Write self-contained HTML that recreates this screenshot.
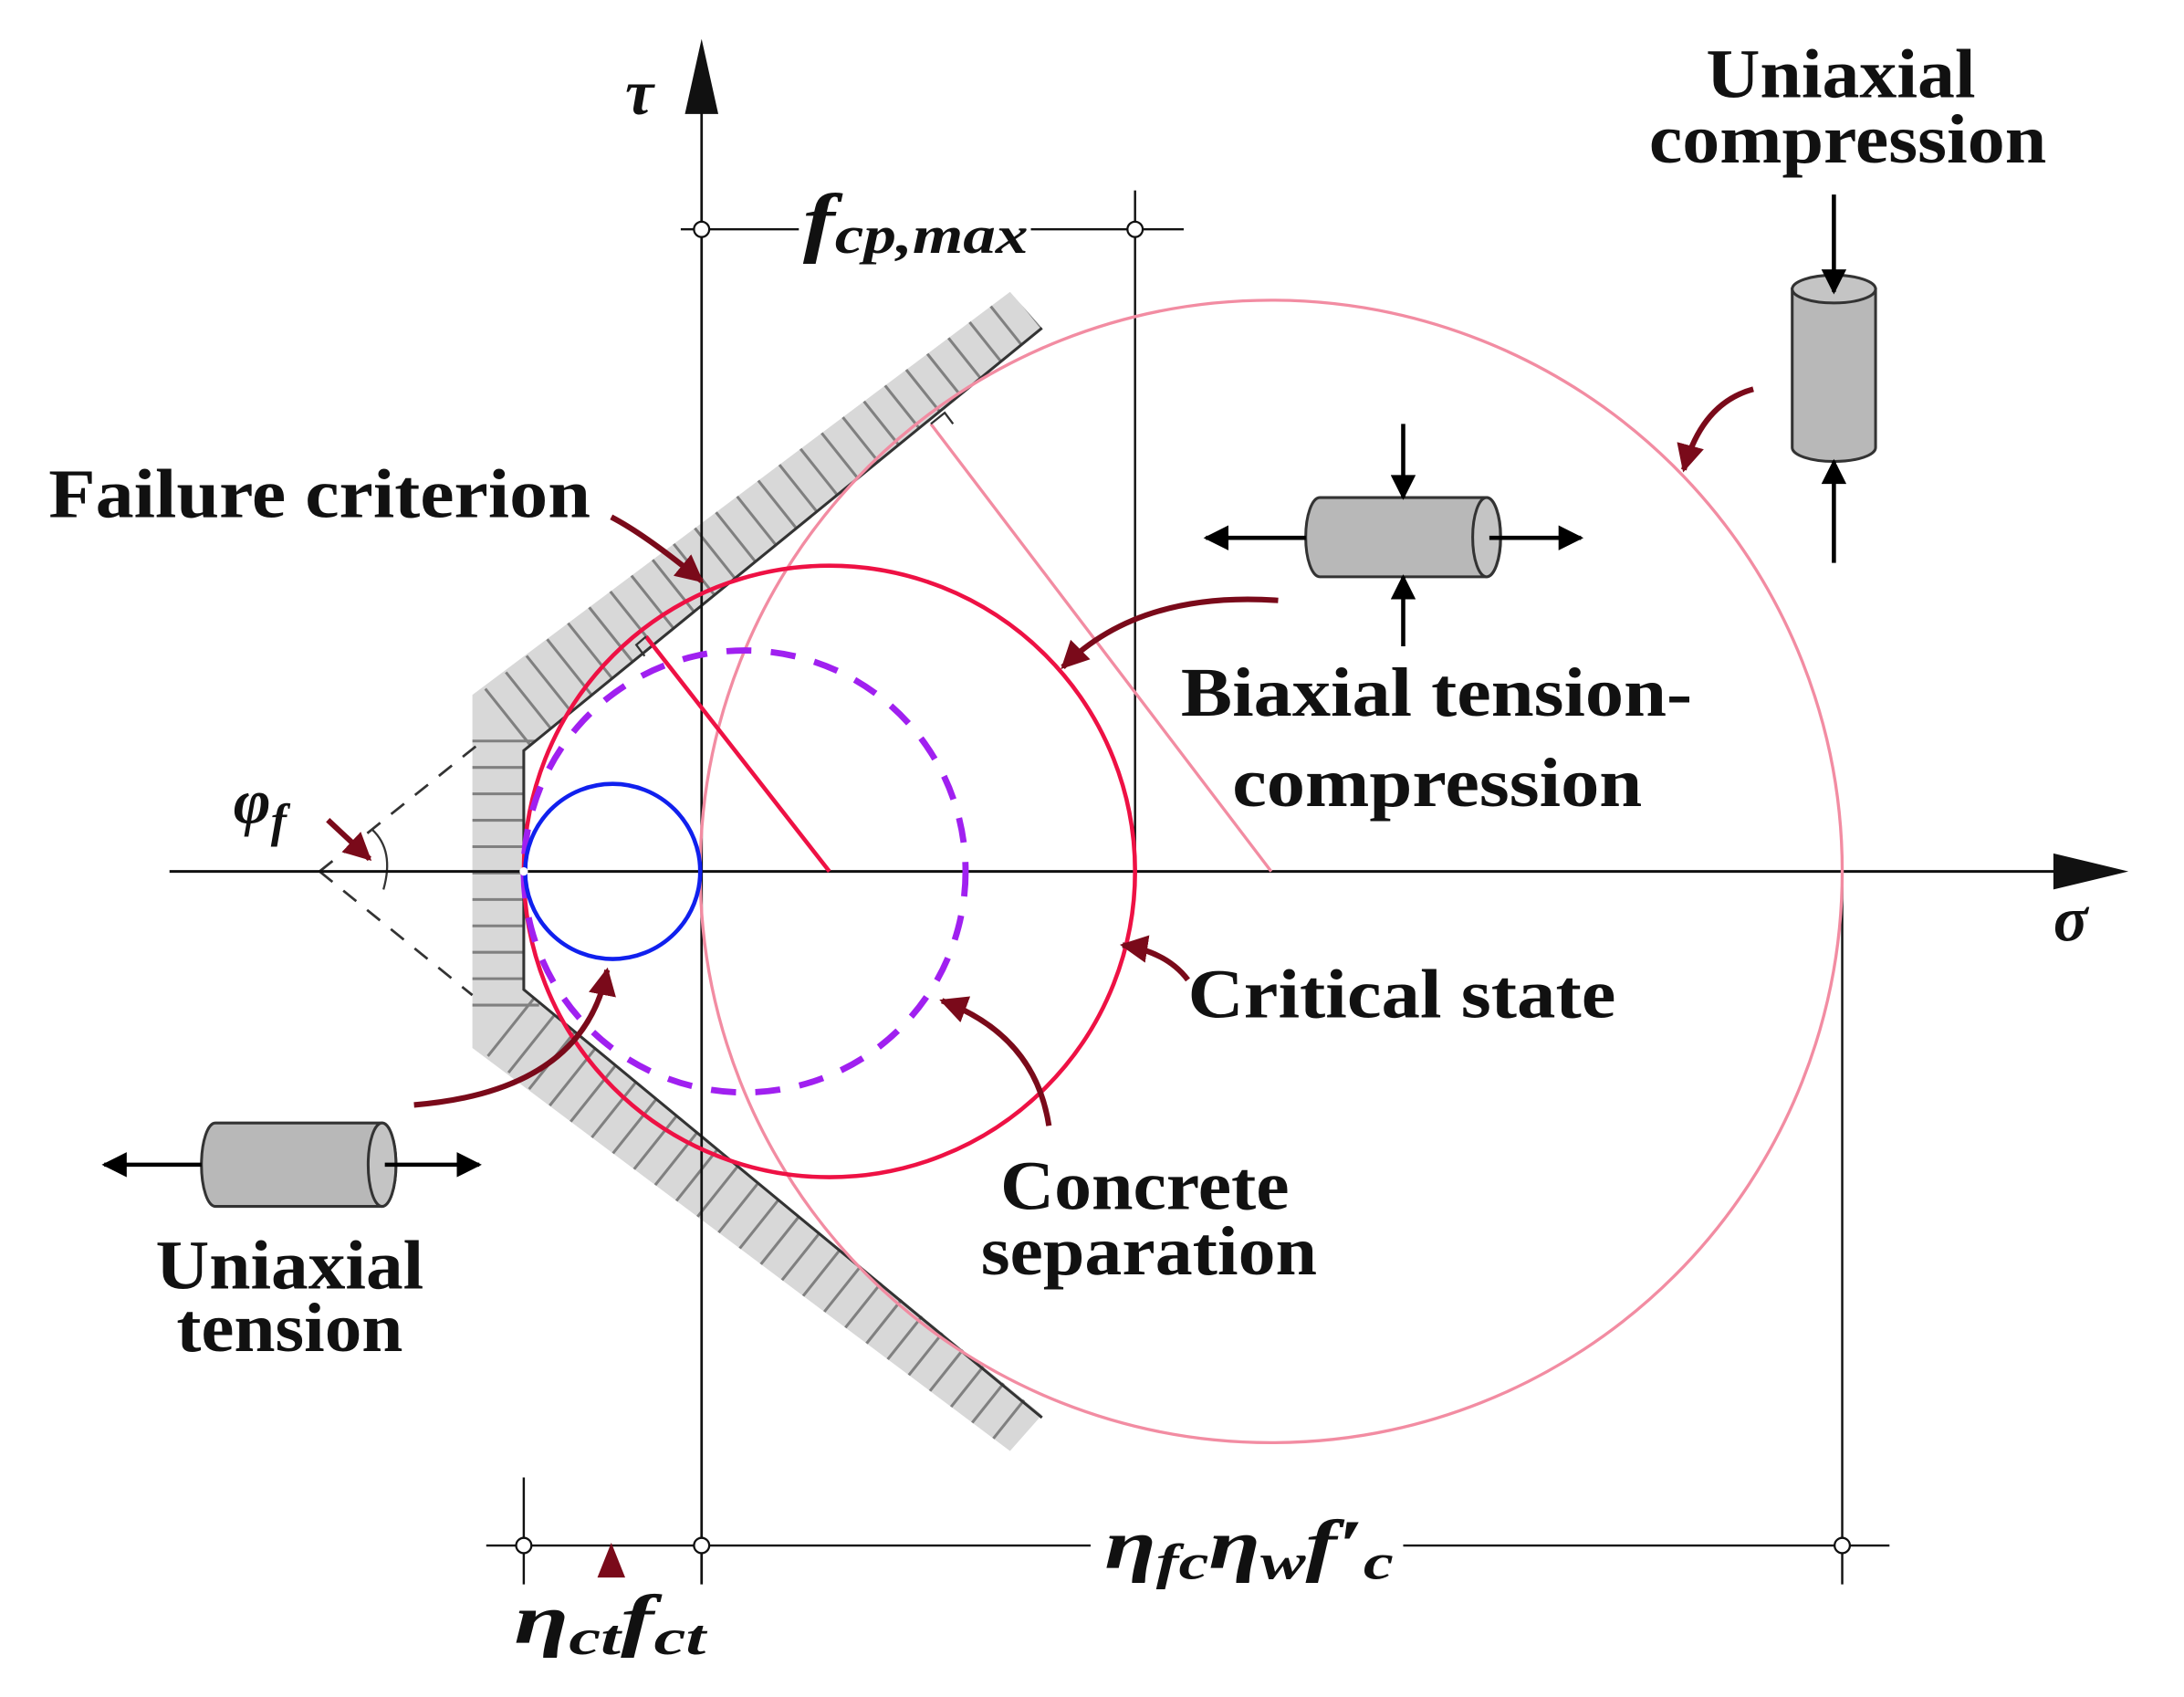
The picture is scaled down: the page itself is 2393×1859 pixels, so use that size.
<!DOCTYPE html>
<html><head><meta charset="utf-8"><style>
html,body{margin:0;padding:0;background:#fff;}
svg{display:block;}
text{font-family:"Liberation Serif",serif;font-weight:bold;fill:#111;}
</style></head><body>
<svg width="2393" height="1859" viewBox="0 0 1572 1221" preserveAspectRatio="none" xmlns="http://www.w3.org/2000/svg">
<defs>
<marker id="ah" viewBox="0 0 10 10" refX="9" refY="5" markerWidth="5" markerHeight="5" orient="auto" markerUnits="strokeWidth"><path d="M0,0 L10,5 L0,10 z" fill="#7a0a1a"/></marker>
<marker id="bh" viewBox="0 0 10 10" refX="9" refY="5" markerWidth="9" markerHeight="6" orient="auto" markerUnits="strokeWidth"><path d="M0,0 L10,5 L0,10 z" fill="#000"/></marker>
<clipPath id="band">
<polygon points="340,500 727,210 750,236 377,540 340,540"/>
<rect x="340" y="500" width="37" height="254"/>
<polygon points="340,754 727,1044 750,1018 377,712 340,712"/>
</clipPath>
</defs>

<!-- hatched band -->
<g clip-path="url(#band)">
<rect x="330" y="190" width="440" height="870" fill="#d8d8d8"/>
<polyline points="740,222 358,527 358,727 740,1032" fill="none" stroke="#808080" stroke-width="60" stroke-dasharray="2 17"/>
</g>
<polyline points="750,236 377,540 377,712 750,1020" fill="none" stroke="#333" stroke-width="2"/>

<!-- dashed extension -->
<line x1="230" y1="627" x2="345" y2="535" stroke="#333" stroke-width="1.8" stroke-dasharray="12 10"/>
<line x1="230" y1="627" x2="340" y2="716" stroke="#333" stroke-width="1.8" stroke-dasharray="12 10"/>
<path d="M268,597 Q284,612 276,640" fill="none" stroke="#333" stroke-width="1.5"/>

<!-- axes -->
<line x1="122" y1="627" x2="1490" y2="627" stroke="#111" stroke-width="2"/>
<path d="M1478,614 L1532,627 L1478,640 z" fill="#111"/>
<line x1="505" y1="70" x2="505" y2="1140" stroke="#111" stroke-width="1.8"/>
<path d="M493,82 L505,28 L517,82 z" fill="#111"/>

<!-- vertical guides -->
<line x1="817" y1="137" x2="817" y2="630" stroke="#111" stroke-width="1.6"/>
<line x1="1326" y1="627" x2="1326" y2="1140" stroke="#111" stroke-width="1.6"/>
<line x1="377" y1="1063" x2="377" y2="1140" stroke="#111" stroke-width="1.6"/>

<!-- dimension lines -->
<line x1="490" y1="165" x2="575" y2="165" stroke="#111" stroke-width="1.6"/>
<line x1="742" y1="165" x2="852" y2="165" stroke="#111" stroke-width="1.6"/>
<circle cx="505" cy="165" r="5.5" fill="#fff" stroke="#111" stroke-width="1.5"/>
<circle cx="817" cy="165" r="5.5" fill="#fff" stroke="#111" stroke-width="1.5"/>
<line x1="350" y1="1112" x2="785" y2="1112" stroke="#111" stroke-width="1.6"/>
<line x1="1010" y1="1112" x2="1360" y2="1112" stroke="#111" stroke-width="1.6"/>
<circle cx="377" cy="1112" r="5.5" fill="#fff" stroke="#111" stroke-width="1.5"/>
<circle cx="505" cy="1112" r="5.5" fill="#fff" stroke="#111" stroke-width="1.5"/>
<circle cx="1326" cy="1112" r="5.5" fill="#fff" stroke="#111" stroke-width="1.5"/>
<path d="M430,1135 L440,1110 L450,1135 z" fill="#7a0a1a"/>

<!-- circles -->
<circle cx="915" cy="627" r="411" fill="none" stroke="#f28ca2" stroke-width="2.2"/>
<line x1="915" y1="627" x2="670" y2="305" stroke="#f28ca2" stroke-width="2.2"/>
<path d="M670,305 l10,-8 l6,8" fill="none" stroke="#333" stroke-width="1.5"/>
<circle cx="597" cy="627" r="220" fill="none" stroke="#ee1144" stroke-width="3"/>
<line x1="597" y1="627" x2="465" y2="458" stroke="#ee1144" stroke-width="3"/>
<path d="M465,458 l-7,6 l6,8" fill="none" stroke="#333" stroke-width="1.5"/>
<circle cx="536" cy="627" r="159" fill="none" stroke="#a020f0" stroke-width="4.5" stroke-dasharray="18 14"/>
<circle cx="441" cy="627" r="63" fill="none" stroke="#1020ee" stroke-width="3"/>
<circle cx="377" cy="627" r="3" fill="#fff"/>

<!-- pointer arrows -->
<g fill="none" stroke="#7a0a1a" stroke-width="4" marker-end="url(#ah)">
<path d="M440,372 Q465,385 505,418"/>
<path d="M920,432 Q820,425 765,480"/>
<path d="M1262,280 Q1225,290 1212,338"/>
<path d="M855,705 Q840,685 808,680"/>
<path d="M755,810 Q745,745 678,720"/>
<path d="M298,795 Q420,785 437,698"/>
<path d="M236,590 L266,618"/>
</g>

<!-- horizontal cylinder (biaxial) -->
<g stroke="#333" stroke-width="2">
<path d="M950,358 L1070,358 A10,28 0 0 1 1070,415 L950,415 A10,28 0 0 1 950,358 z" fill="#b8b8b8"/>
<ellipse cx="1070" cy="386.5" rx="10" ry="28.5" fill="#c4c4c4"/>
</g>
<g stroke="#000" stroke-width="3" marker-end="url(#bh)">
<line x1="940" y1="387" x2="868" y2="387"/>
<line x1="1072" y1="387" x2="1138" y2="387"/>
<line x1="1010" y1="305" x2="1010" y2="358"/>
<line x1="1010" y1="465" x2="1010" y2="415"/>
</g>

<!-- tension cylinder -->
<g stroke="#333" stroke-width="2">
<path d="M155,808 L275,808 A10,30 0 0 1 275,868 L155,868 A10,30 0 0 1 155,808 z" fill="#b8b8b8"/>
<ellipse cx="275" cy="838" rx="10" ry="30" fill="#c4c4c4"/>
</g>
<g stroke="#000" stroke-width="3" marker-end="url(#bh)">
<line x1="145" y1="838" x2="75" y2="838"/>
<line x1="277" y1="838" x2="345" y2="838"/>
</g>

<!-- vertical cylinder -->
<g stroke="#333" stroke-width="2">
<path d="M1290,208 L1290,322 A30,10 0 0 0 1350,322 L1350,208 z" fill="#b8b8b8"/>
<ellipse cx="1320" cy="208" rx="30" ry="10" fill="#c4c4c4"/>
</g>
<g stroke="#000" stroke-width="3" marker-end="url(#bh)">
<line x1="1320" y1="140" x2="1320" y2="210"/>
<line x1="1320" y1="405" x2="1320" y2="332"/>
</g>

<!-- labels -->
<text x="35" y="372" font-size="50" textLength="390" lengthAdjust="spacingAndGlyphs">Failure criterion</text>
<text x="1228" y="70" font-size="50" textLength="194" lengthAdjust="spacingAndGlyphs">Uniaxial</text>
<text x="1187" y="117" font-size="50" textLength="286" lengthAdjust="spacingAndGlyphs">compression</text>
<text x="850" y="515" font-size="50" textLength="368" lengthAdjust="spacingAndGlyphs">Biaxial tension-</text>
<text x="887" y="580" font-size="50" textLength="295" lengthAdjust="spacingAndGlyphs">compression</text>
<text x="855" y="732" font-size="50" textLength="308" lengthAdjust="spacingAndGlyphs">Critical state</text>
<text x="720" y="870" font-size="50" textLength="208" lengthAdjust="spacingAndGlyphs">Concrete</text>
<text x="706" y="917" font-size="50" textLength="242" lengthAdjust="spacingAndGlyphs">separation</text>
<text x="112" y="927" font-size="50" textLength="193" lengthAdjust="spacingAndGlyphs">Uniaxial</text>
<text x="127" y="972" font-size="50" textLength="163" lengthAdjust="spacingAndGlyphs">tension</text>

<text x="450" y="82" font-size="46" font-style="italic">τ</text>
<text x="1478" y="677" font-size="46" font-style="italic">σ</text>
<text x="168" y="592" font-size="46" font-style="italic">φ<tspan font-size="34" dy="10">f</tspan></text>
<text x="578" y="178" font-size="56" font-style="italic" textLength="162" lengthAdjust="spacingAndGlyphs">f<tspan font-size="38" dy="4">cp,max</tspan></text>
<text x="795" y="1128" font-size="50" font-style="italic" textLength="208" lengthAdjust="spacingAndGlyphs">η<tspan font-size="36" dy="8">fc</tspan><tspan dy="-8">η</tspan><tspan font-size="36" dy="8">w</tspan><tspan dy="-8">f′</tspan><tspan font-size="36" dy="8">c</tspan></text>
<text x="370" y="1182" font-size="50" font-style="italic" textLength="138" lengthAdjust="spacingAndGlyphs">η<tspan font-size="36" dy="8">ct</tspan><tspan dy="-8">f</tspan><tspan font-size="36" dy="8">ct</tspan></text>
</svg>
</body></html>
